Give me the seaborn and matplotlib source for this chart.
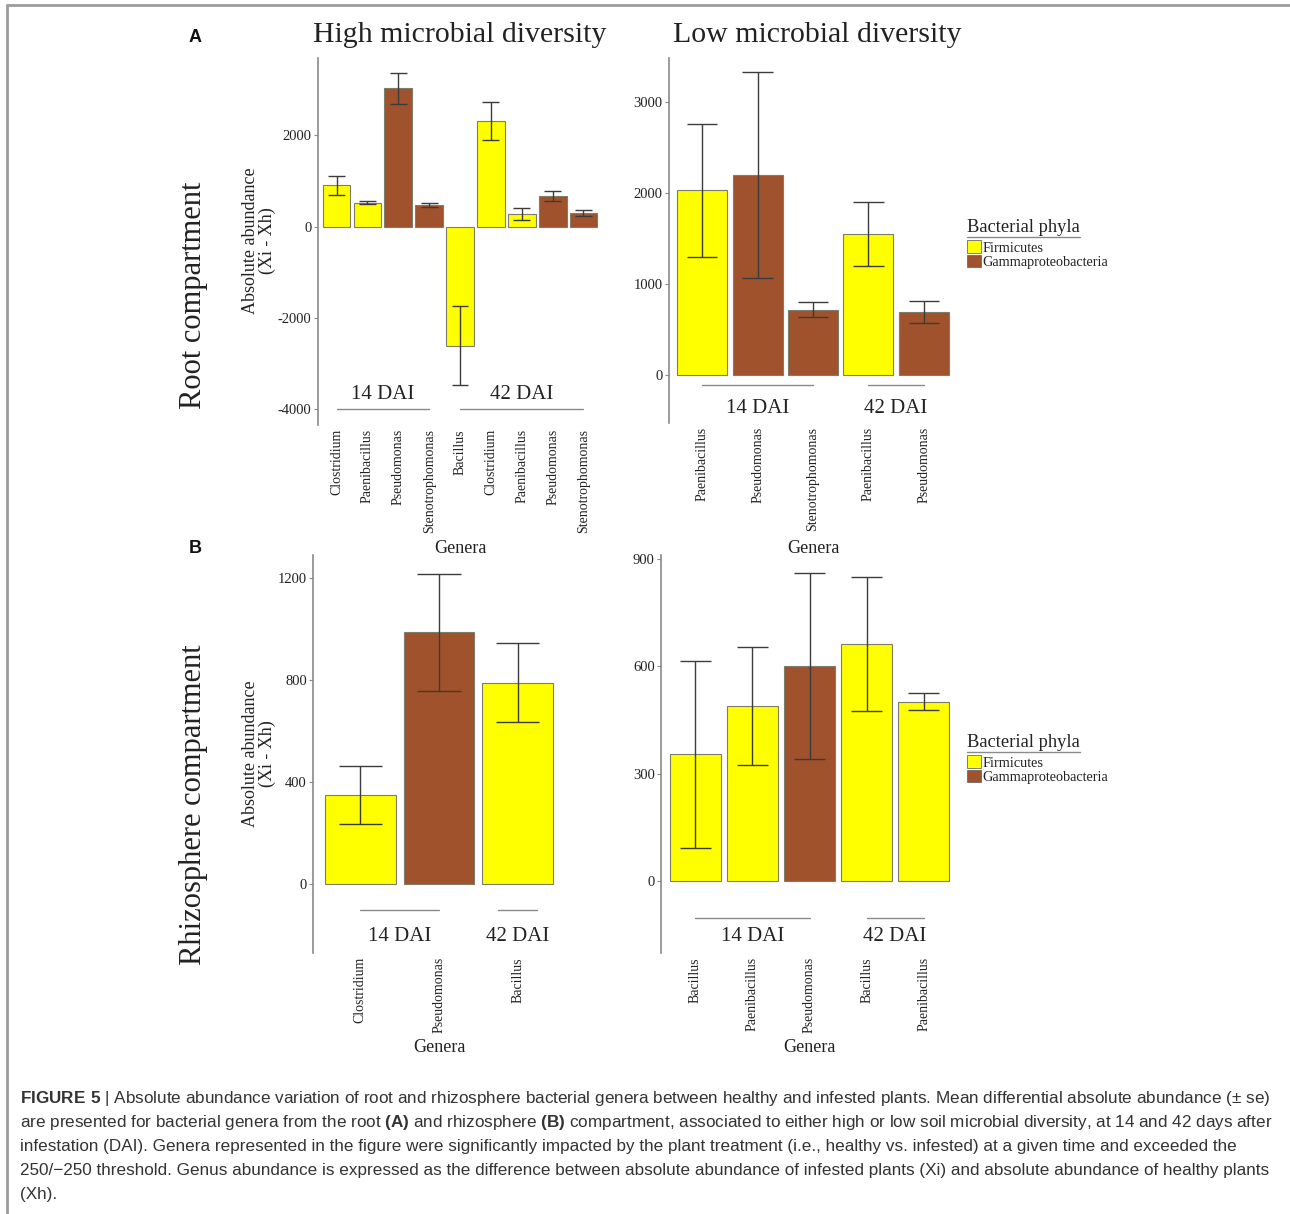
import numpy as np
import pandas as pd
import matplotlib.pyplot as plt
import seaborn as sns
from matplotlib.lines import Line2D
from matplotlib.patches import Patch
from matplotlib import transforms

# values: mean (Xi - Xh) and its standard error
root_high_genus = ["Clostridium", "Paenibacillus", "Pseudomonas", "Stenotrophomonas",
                   "Bacillus", "Clostridium", "Paenibacillus", "Pseudomonas", "Stenotrophomonas"]
root_high_dai = ["14 DAI"] * 4 + ["42 DAI"] * 5
root_high_phylum = ["Firmicutes", "Firmicutes", "Gammaproteobacteria", "Gammaproteobacteria",
                    "Firmicutes", "Firmicutes", "Firmicutes", "Gammaproteobacteria", "Gammaproteobacteria"]
root_high_mean = [905, 520, 3025, 472, -2605, 2320, 270, 675, 305]
root_high_se = [205, 30, 350, 40, 860, 415, 135, 105, 65]

root_low_genus = ["Paenibacillus", "Pseudomonas", "Stenotrophomonas", "Paenibacillus", "Pseudomonas"]
root_low_dai = ["14 DAI"] * 3 + ["42 DAI"] * 2
root_low_phylum = ["Firmicutes", "Gammaproteobacteria", "Gammaproteobacteria",
                   "Firmicutes", "Gammaproteobacteria"]
root_low_mean = [2030, 2200, 720, 1550, 690]
root_low_se = [730, 1130, 83, 355, 120]

rhizo_high_genus = ["Clostridium", "Pseudomonas", "Bacillus"]
rhizo_high_dai = ["14 DAI", "14 DAI", "42 DAI"]
rhizo_high_phylum = ["Firmicutes", "Gammaproteobacteria", "Firmicutes"]
rhizo_high_mean = [350, 986, 790]
rhizo_high_se = [113, 230, 153]

rhizo_low_genus = ["Bacillus", "Paenibacillus", "Pseudomonas", "Bacillus", "Paenibacillus"]
rhizo_low_dai = ["14 DAI"] * 3 + ["42 DAI"] * 2
rhizo_low_phylum = ["Firmicutes", "Firmicutes", "Gammaproteobacteria", "Firmicutes", "Firmicutes"]
rhizo_low_mean = [354, 488, 600, 663, 501]
rhizo_low_se = [260, 165, 260, 187, 24]

phyla = ["Firmicutes", "Gammaproteobacteria"]
colors = {"Firmicutes": "#FFFF00", "Gammaproteobacteria": "#A0522D"}

W, H = 1290, 1214

sns.set_theme(style="white")
plt.rcParams["font.family"] = ["Liberation Serif", "DejaVu Serif"]
plt.rcParams["mathtext.fontset"] = "custom"
plt.rcParams["mathtext.rm"] = "Liberation Sans"
plt.rcParams["mathtext.bf"] = "Liberation Sans:bold"

fig = plt.figure(figsize=(W / 100, H / 100), dpi=100)
fig.patch.set_facecolor("white")

def rect(x0, y0, x1, y1):
    return [x0 / W, 1 - y1 / H, (x1 - x0) / W, (y1 - y0) / H]

def fx(x):
    return x / W

def fy(y):
    return 1 - y / H

GREY = "#8a8a8a"
TXT = "#222222"

def draw_panel(box, genus, dai, phylum, mean, se, ylim, yticks, line_y, lab_y):
    ax = fig.add_axes(rect(*box))
    n = len(genus)
    df = pd.DataFrame({"slot": [f"{d} {g}" for d, g in zip(dai, genus)],
                       "phylum": phylum, "mean": mean, "se": se})
    sns.barplot(data=df, x="slot", y="mean", hue="phylum", hue_order=phyla,
                palette=colors, saturation=1, dodge=False, width=0.9, errorbar=None,
                edgecolor="#7d7d6a", linewidth=0.8, legend=False, ax=ax)
    x = np.arange(n)
    lo = df["mean"] - df["se"]
    hi = df["mean"] + df["se"]
    ax.vlines(x, lo, hi, color="#3c3c3c", lw=1.0, zorder=4)
    ax.hlines(lo, x - 0.275, x + 0.275, color="#3c3c3c", lw=1.0, zorder=4)
    ax.hlines(hi, x - 0.275, x + 0.275, color="#3c3c3c", lw=1.0, zorder=4)

    # time-point brackets under the bars
    trans = transforms.blended_transform_factory(ax.transData, ax.transAxes)
    for d in dict.fromkeys(dai):
        idx = [i for i, v in enumerate(dai) if v == d]
        if len(idx) > 1:
            a, b = idx[0], idx[-1]
        else:
            a, b = idx[0] - 0.25, idx[0] + 0.25
        ax.plot([a, b], [line_y, line_y], transform=trans, color=GREY, lw=1.0, clip_on=False)
        ax.text(np.mean(idx), lab_y, d, transform=trans, ha="center", va="center",
                fontsize=15, color=TXT)

    ax.set_xlim(-0.6, n - 0.4)
    ax.set_ylim(*ylim)
    ax.set_yticks(yticks)
    ax.set_yticklabels([str(t) for t in yticks])
    ax.set_xticks(x)
    ax.set_xticklabels(genus, rotation=90, fontsize=10, color=TXT, va="top")
    ax.set_xlabel("")
    ax.set_ylabel("")
    for s in ["top", "right", "bottom"]:
        ax.spines[s].set_visible(False)
    ax.spines["left"].set_color(GREY)
    ax.spines["left"].set_linewidth(1.2)
    ax.tick_params(axis="y", length=3, width=0.8, color=GREY, labelsize=10.5,
                   labelcolor=TXT, pad=1.5, left=True)
    ax.tick_params(axis="x", length=0, pad=3)
    ax.patch.set_alpha(0)
    return ax

ax1 = draw_panel((318, 58, 602, 425), root_high_genus, root_high_dai, root_high_phylum,
                 root_high_mean, root_high_se, (-4346, 3693), [-4000, -2000, 0, 2000], 0.044, 0.084)
ax2 = draw_panel((669, 58, 957, 423), root_low_genus, root_low_dai, root_low_phylum,
                 root_low_mean, root_low_se, (-528, 3487), [0, 1000, 2000, 3000], 0.105, 0.041)
ax3 = draw_panel((313, 555, 565, 953), rhizo_high_genus, rhizo_high_dai, rhizo_high_phylum,
                 rhizo_high_mean, rhizo_high_se, (-268, 1289), [0, 400, 800, 1200], 0.109, 0.042)
ax4 = draw_panel((661, 555, 958, 953), rhizo_low_genus, rhizo_low_dai, rhizo_low_phylum,
                 rhizo_low_mean, rhizo_low_se, (-200, 910), [0, 300, 600, 900], 0.089, 0.042)

# axis labels
for ax, yy in [(ax1, 548), (ax2, 548), (ax3, 1048), (ax4, 1048)]:
    bb = ax.get_position()
    fig.text((bb.x0 + bb.x1) / 2, fy(yy), "Genera", ha="center", va="center",
             fontsize=13, color=TXT)
for yc in [241, 754]:
    fig.text(fx(259), fy(yc), "Absolute abundance\n(Xi - Xh)", rotation=90,
             ha="center", va="center", multialignment="center", fontsize=13,
             color=TXT, linespacing=1.0)

# titles
fig.text(fx(460), fy(35), "High microbial diversity", ha="center", va="center",
         fontsize=21.5, color=TXT)
fig.text(fx(817), fy(35), "Low microbial diversity", ha="center", va="center",
         fontsize=21.5, color=TXT)
fig.text(fx(193), fy(295), "Root compartment", rotation=90, ha="center", va="center",
         fontsize=22, color=TXT)
fig.text(fx(193), fy(805), "Rhizosphere compartment", rotation=90, ha="center",
         va="center", fontsize=22, color=TXT)
for lab, yy in [("A", 38), ("B", 549)]:
    fig.text(fx(195), fy(yy), lab, ha="center", va="center", fontsize=13,
             fontweight="bold", family=["Liberation Sans", "DejaVu Sans"], color="#111111")

# legends (title underlined, as in the ggplot original)
handles = [Patch(facecolor=colors[p], edgecolor="#6a6a6a", linewidth=0.6) for p in phyla]
fig.canvas.draw()
for ax, ytop in [(ax2, 215), (ax4, 730)]:
    leg = ax.legend(handles, phyla, loc="upper left", bbox_to_anchor=(fx(963), fy(ytop)),
                    bbox_transform=fig.transFigure, frameon=False, fontsize=10.3,
                    title="Bacterial phyla", title_fontsize=13.3, alignment="left",
                    handlelength=0.95, handleheight=0.95, handletextpad=0.1,
                    labelspacing=0.0, borderpad=0.3, borderaxespad=0)
    leg._legend_box.sep = 3  # small gap between title and keys
    for t in leg.get_texts():
        t.set_color(TXT)
    leg.get_title().set_color(TXT)
    fig.canvas.draw()
    tb = leg.get_title().get_window_extent()
    uy = tb.y0 - 1
    fig.add_artist(Line2D([tb.x0 / W, tb.x1 / W], [uy / H, uy / H], color=GREY, lw=1.0))

# frame lines of the page
fig.add_artist(Line2D([fx(7), 1], [fy(5), fy(5)], color="#9c9c9c", lw=2))
fig.add_artist(Line2D([fx(7), fx(7)], [fy(5), 0], color="#9c9c9c", lw=2))

# caption
cap_lines = [
    r"$\mathbf{FIGURE\ 5}$ | Absolute abundance variation of root and rhizosphere bacterial genera between healthy and infested plants. Mean differential absolute abundance (± se)",
    r"are presented for bacterial genera from the root $\mathbf{(A)}$ and rhizosphere $\mathbf{(B)}$ compartment, associated to either high or low soil microbial diversity, at 14 and 42 days after",
    "infestation (DAI). Genera represented in the figure were significantly impacted by the plant treatment (i.e., healthy vs. infested) at a given time and exceeded the",
    "250/\u2212250 threshold. Genus abundance is expressed as the difference between absolute abundance of infested plants (Xi) and absolute abundance of healthy plants",
    "(Xh).",
]
for i, line in enumerate(cap_lines):
    fig.text(fx(20), fy(1103 + 24 * i), line, ha="left", va="baseline", fontsize=12.3,
             family=["Liberation Sans", "DejaVu Sans"], color="#333333")

fig.savefig("out.png", dpi=100)
